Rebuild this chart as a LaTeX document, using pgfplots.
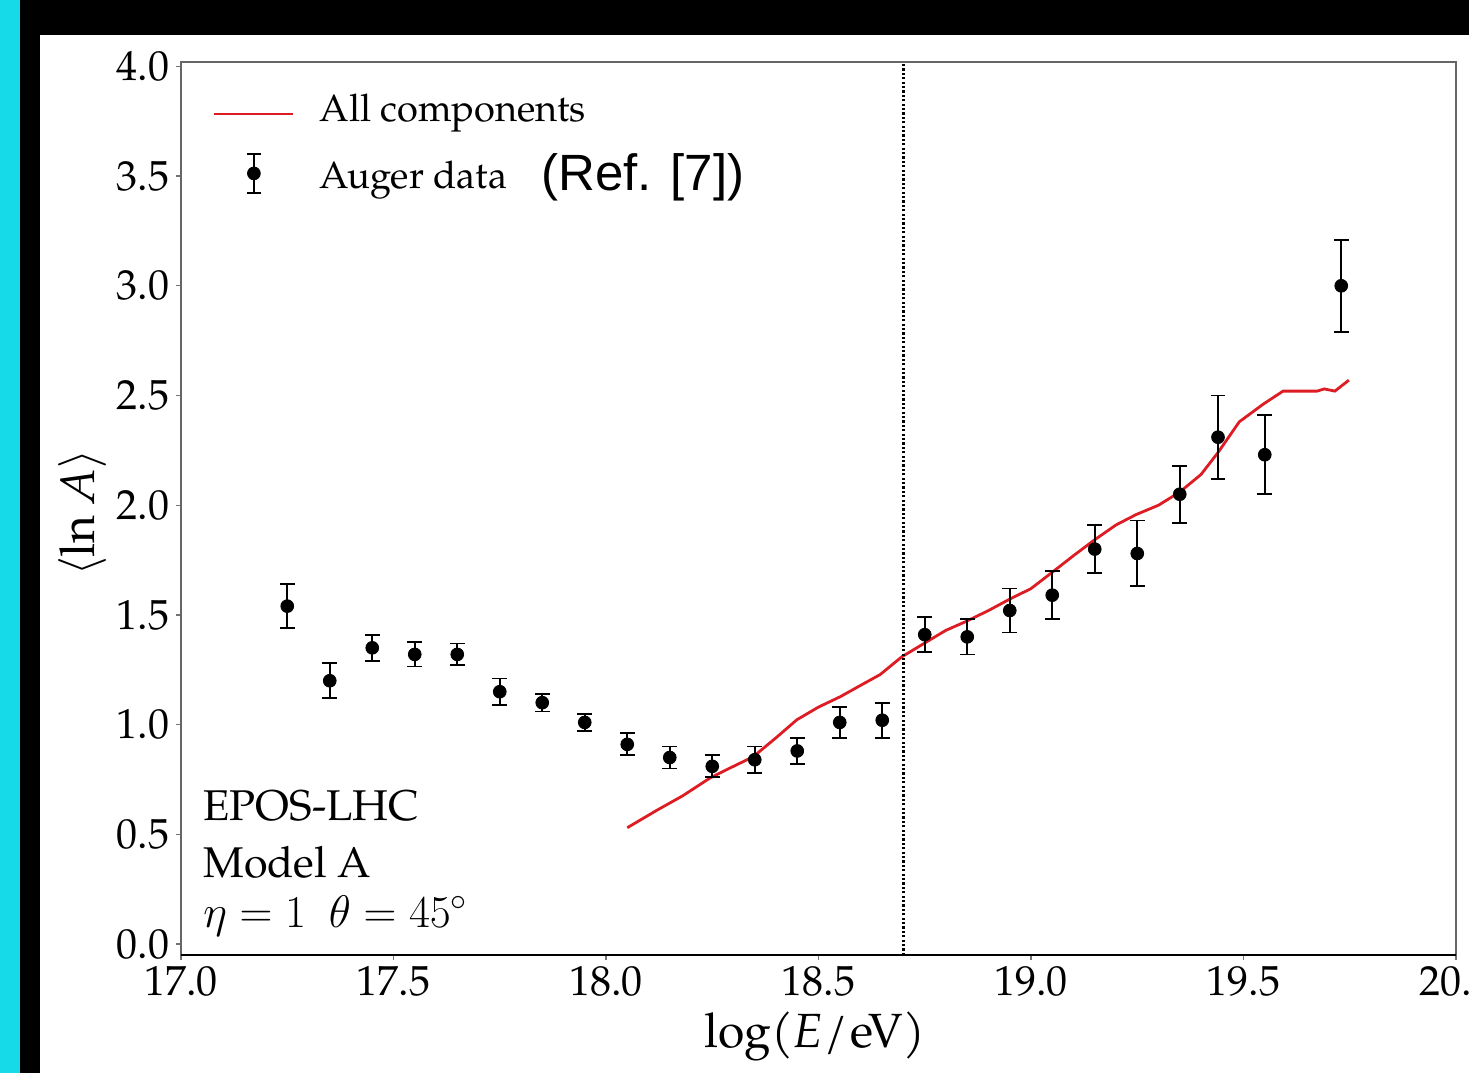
\RequirePackage{fix-cm}
\documentclass[border=0pt]{standalone}
\usepackage{pgfplots}
\usepackage{pgfplotstable}
\pgfplotsset{compat=1.18}
\usepackage{fontspec}
\setmainfont{texgyrepagella-regular.otf}[ItalicFont=texgyrepagella-italic.otf,BoldFont=texgyrepagella-bold.otf]
\newfontfamily\arialfont{Liberation Sans}
\definecolor{cyanbar}{RGB}{22,218,232}
\definecolor{myred}{RGB}{222,28,36}

\pgfplotstableread{
x y e
17.25 1.54 0.10
17.35 1.20 0.08
17.45 1.35 0.06
17.55 1.32 0.055
17.65 1.32 0.05
17.75 1.15 0.06
17.85 1.10 0.04
17.95 1.01 0.04
18.05 0.91 0.05
18.15 0.85 0.05
18.25 0.81 0.05
18.35 0.84 0.06
18.45 0.88 0.06
18.55 1.01 0.07
18.65 1.02 0.08
18.75 1.41 0.08
18.85 1.40 0.08
18.95 1.52 0.10
19.05 1.59 0.11
19.15 1.80 0.11
19.25 1.78 0.15
19.35 2.05 0.13
19.44 2.31 0.19
19.55 2.23 0.18
19.73 3.00 0.21
}\auger

\pgfplotstableread{
x y
18.05 0.53
18.12 0.61
18.18 0.675
18.245 0.757
18.30 0.81
18.346 0.853
18.40 0.94
18.449 1.022
18.50 1.08
18.551 1.127
18.60 1.18
18.645 1.228
18.696 1.309
18.762 1.386
18.80 1.43
18.847 1.47
18.90 1.52
18.948 1.57
19.00 1.62
19.047 1.69
19.10 1.77
19.148 1.84
19.20 1.91
19.247 1.957
19.30 2.00
19.35 2.06
19.40 2.14
19.44 2.24
19.49 2.38
19.546 2.46
19.593 2.52
19.673 2.52
19.69 2.53
19.715 2.52
19.748 2.57
}\model

\begin{document}
\begin{tikzpicture}
\useasboundingbox (0pt,0pt) rectangle (734.5pt,536.5pt);
\begin{scope}[x=0.5pt,y=-0.5pt,shift={(0pt,536.5pt)}]
\fill[white] (0,0) rectangle (1469,1073);
\fill[cyanbar] (0,0) rectangle (20,1073);
\fill[black] (20,0) rectangle (40,1073);
\fill[black] (20,0) rectangle (1469,35);
\end{scope}
\begin{axis}[
  at={(90.5pt,59pt)}, anchor=south west,
  scale only axis, width=637.5pt, height=446.5pt,
  xmin=17, xmax=20, ymin=-0.05, ymax=4.02,
  xtick={17,17.5,...,20}, ytick={0,0.5,...,4},
  /pgf/number format/fixed, /pgf/number format/fixed zerofill,
  /pgf/number format/precision=1, /pgf/number format/assume math mode=true,
  ticklabel style={font=\fontsize{21}{21}\selectfont},
  xtick pos=bottom, ytick pos=left, tick align=outside,
  major tick length=2.3pt,
  tick style={black!55, line width=0.6pt},
  axis line style={black!60, line width=0.75pt},
  legend style={at={(0.0251,0.9664)}, anchor=north west, draw=none, fill=none,
    font=\fontsize{19}{19}\selectfont, inner sep=0pt, outer sep=0pt,
    row sep=10.5pt, column sep=12.5pt,
    nodes={inner sep=0pt, text height=13pt, text depth=4pt}},
  legend cell align=left,
]
\addplot[myred, line width=1.4pt, no marks,
  legend image code/.code={\path[draw=none,fill=none] (0pt,-10pt) rectangle (39.5pt,10pt);
    \draw[myred, line width=1.4pt] (0pt,-1pt) -- (39.5pt,-1pt);}]
  table[x=x,y=y]{\model};
\addlegendentry{All components}
\addplot[black, only marks, mark=*, mark size=3.2pt,
  legend image code/.code={\path[draw=none,fill=none] (0pt,-10pt) rectangle (39.5pt,10pt);
    \begin{scope}[yshift=3pt]
    \draw[black, line width=0.9pt] (19.75pt,-9.75pt) -- (19.75pt,9.75pt)
      (16.25pt,-9.75pt) -- (23.25pt,-9.75pt) (16.25pt,9.75pt) -- (23.25pt,9.75pt);
    \fill[black] (19.75pt,0pt) circle (3.2pt);
    \end{scope}},
  error bars/.cd, y dir=both, y explicit,
  error bar style={line width=0.9pt, black},
  error mark options={rotate=90, mark size=3.7pt, line width=0.9pt, black}]
  table[x=x,y=y,y error=e]{\auger};
\addlegendentry{Auger data}
\addplot[black, line width=1.2pt, dash pattern=on 1.1pt off 1.1pt, forget plot]
  coordinates {(18.7,-0.05) (18.7,4.02)};
\draw[black, line width=0.75pt] (rel axis cs:0,0) -- (rel axis cs:1,0);
\end{axis}
\begin{scope}[x=0.5pt,y=-0.5pt,shift={(0pt,536.5pt)}]
\node[anchor=base west, inner sep=0pt, font=\fontsize{21.5}{21.5}\selectfont] at (203,820) {EPOS-LHC};
\node[anchor=base west, inner sep=0pt, font=\fontsize{21.5}{21.5}\selectfont] at (203,877) {Model A};
\node[anchor=base west, inner sep=0pt, font=\fontsize{22.8}{22.8}\selectfont] at (203,927) {$\eta = 1\ \ \theta = 45^\circ$};
\node[anchor=base west, inner sep=0pt, font=\arialfont\fontsize{25.5}{25.5}\selectfont] at (541,191) {(Ref. [7])};
\node[anchor=base, inner sep=0pt, font=\fontsize{24}{24}\selectfont] at (815,1047) {log(\textit{E}\kern1pt/\kern1pt eV)};
\node[rotate=90, anchor=center, inner sep=0pt, font=\fontsize{24}{24}\selectfont] at (82,513) {$\langle$ln \textit{A}$\rangle$};
\end{scope}
\end{tikzpicture}
\end{document}
